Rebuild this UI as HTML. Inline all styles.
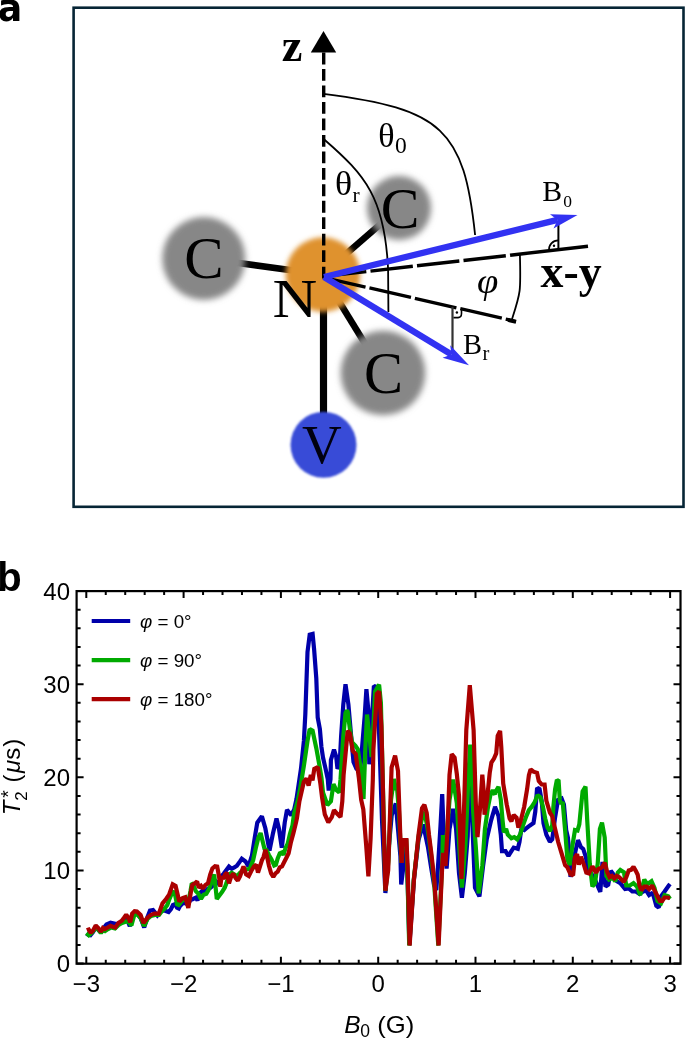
<!DOCTYPE html>
<html><head><meta charset="utf-8"><title>Figure</title>
<style>html,body{margin:0;padding:0;background:#fff;width:685px;height:1039px;overflow:hidden}svg{display:block}</style>
</head><body>
<svg width="685" height="1039" viewBox="0 0 685 1039">
<defs>
<filter id="b3" x="-30%" y="-30%" width="160%" height="160%"><feGaussianBlur stdDeviation="3.2"/></filter>
<filter id="b2" x="-30%" y="-30%" width="160%" height="160%"><feGaussianBlur stdDeviation="2.5"/></filter>
<filter id="b1" x="-30%" y="-30%" width="160%" height="160%"><feGaussianBlur stdDeviation="1.2"/></filter>
</defs>
<rect width="685" height="1039" fill="#fff"/>
<text x="0" y="20.9" font-family="DejaVu Sans, Liberation Sans, sans-serif" font-weight="bold" font-size="39.5" transform="translate(-2.3,0) scale(0.92,1)">a</text>
<text x="-2.8" y="590.6" font-family="Liberation Sans, Arial, sans-serif" font-weight="bold" font-size="40">b</text>
<rect x="73.6" y="7.7" width="609.9" height="499.1" fill="none" stroke="#062535" stroke-width="2.6"/>
<g stroke="#000" stroke-width="6.6" stroke-linecap="butt">
<line x1="322.5" y1="274.5" x2="203.8" y2="258.2"/>
<line x1="322.5" y1="274.5" x2="399" y2="208"/>
<line x1="322.5" y1="274.5" x2="383" y2="373"/>
<line x1="323.5" y1="277.0" x2="323.5" y2="445" stroke-width="7.2"/>
</g>
<circle cx="203.8" cy="258.5" r="41.5" fill="#878787" filter="url(#b3)"/>
<circle cx="399" cy="208" r="32" fill="#878787" filter="url(#b3)"/>
<circle cx="383" cy="373" r="42.3" fill="#878787" filter="url(#b3)"/>
<circle cx="322.9" cy="274.6" r="37.3" fill="#df922e" filter="url(#b2)"/>
<circle cx="323.5" cy="444.8" r="33" fill="#374bd7" filter="url(#b1)"/>
<text x="204" y="278" font-family="Liberation Serif, Times New Roman, serif" font-size="59" text-anchor="middle" fill="#000">C</text>
<text x="400" y="228" font-family="Liberation Serif, Times New Roman, serif" font-size="58" text-anchor="middle" fill="#000">C</text>
<text x="383.6" y="392.8" font-family="Liberation Serif, Times New Roman, serif" font-size="58.5" text-anchor="middle" fill="#000">C</text>
<text x="0" y="0" font-family="Liberation Serif, Times New Roman, serif" font-size="55.8" text-anchor="middle" fill="#000" transform="translate(294.9,317.3) scale(1.11,1)">N</text>
<text x="321.8" y="462.8" font-family="Liberation Serif, Times New Roman, serif" font-size="55" text-anchor="middle" fill="#000010">V</text>
<line x1="323.7" y1="52.6" x2="323.7" y2="278.6" stroke="#000" stroke-width="3.4" stroke-dasharray="11.8 4.67"/>
<polygon points="323.5,31 310.8,52.6 336.2,52.6" fill="#000"/>
<text x="281.8" y="60.7" font-family="Liberation Serif, Times New Roman, serif" font-weight="bold" font-size="46.5">z</text>
<path d="M323.5,93.9 C442.5,109 464,129.5 475.1,235" fill="none" stroke="#000" stroke-width="1.8"/>
<path d="M324.5,139.7 C365.5,175.3 384.8,197.9 388.1,269.3 L388.4,312" fill="none" stroke="#000" stroke-width="1.8"/>
<path d="M519.9,254.5 C521,293.1 520.4,293.5 511.7,320" fill="none" stroke="#000" stroke-width="1.8"/>
<line x1="324" y1="276.4" x2="510.1" y2="255.2" stroke="#000" stroke-width="3.4" stroke-dasharray="42.6 4.2"/>
<line x1="510.1" y1="255.2" x2="588" y2="246.3" stroke="#000" stroke-width="3.4"/>
<line x1="324" y1="277.6" x2="516" y2="321.4" stroke="#000" stroke-width="3.4" stroke-dasharray="42.6 4.0"/>
<line x1="508" y1="320.1" x2="516" y2="321.9" stroke="#000" stroke-width="3.6"/>
<line x1="558.4" y1="225" x2="558.4" y2="249.7" stroke="#000" stroke-width="2"/>
<line x1="452.5" y1="306.9" x2="452.5" y2="349" stroke="#333" stroke-width="2.2"/>
<path d="M549,250.7 A9.3,9.3 0 0 1 558.4,240.4" fill="none" stroke="#000" stroke-width="1.7"/>
<circle cx="554" cy="245.8" r="1.2" fill="#000"/>
<path d="M453.5,317.6 L458,317.6 Q461.5,317.4 461.5,313.5 L461.5,309.0" fill="none" stroke="#000" stroke-width="1.6"/>
<circle cx="456.9" cy="312.5" r="1.2" fill="#000"/>
<line x1="324.0" y1="277.0" x2="557.6" y2="219.9" stroke="#3232f2" stroke-width="6.3"/>
<polygon points="577.5,215.0 553.5,228.4 557.6,219.9 550.0,214.2" fill="#3232f2"/>
<line x1="324.0" y1="277.0" x2="451.5" y2="354.5" stroke="#3232f2" stroke-width="6.3"/>
<polygon points="469.0,365.2 442.6,357.7 451.5,354.5 450.2,345.2" fill="#3232f2"/>
<text x="540.6" y="286.6" font-family="Liberation Serif, Times New Roman, serif" font-weight="bold" font-size="45.8">x-y</text>
<text x="542.2" y="200.7" font-family="Liberation Serif, Times New Roman, serif" font-size="29.8">B<tspan font-size="17.5" dx="1.2" dy="5.9">0</tspan></text>
<text x="463" y="354" font-family="Liberation Serif, Times New Roman, serif" font-size="28.5">B<tspan font-size="20.5" dx="0.6" dy="6">r</tspan></text>
<text x="378.3" y="146.5" font-family="Liberation Serif, Times New Roman, serif" font-size="34">θ<tspan font-size="23.5" dx="0.3" dy="6.2">0</tspan></text>
<text x="335" y="194.7" font-family="Liberation Serif, Times New Roman, serif" font-size="34" transform="translate(335,0) scale(1.05,1) translate(-335,0)">θ<tspan font-size="20.5" dx="0.3" dy="7">r</tspan></text>
<text x="477" y="293.3" font-family="Liberation Serif, Times New Roman, serif" font-style="italic" font-size="35" transform="translate(477,0) scale(1.1,1) translate(-477,0)">φ</text>
<polyline points="86.4,933.6 88.8,935.0 90.4,935.2 93.0,932.0 95.7,927.5 98.1,929.5 100.9,932.5 103.0,929.0 106.5,924.5 110.5,922.7 115.3,923.9 118.6,923.5 121.8,921.5 124.2,919.5 126.5,918.0 129.8,926.3 132.0,918.0 134.6,913.0 137.0,913.0 140.6,918.0 144.2,927.4 147.5,917.0 150.0,910.5 153.0,910.0 155.5,913.0 157.4,915.5 161.2,911.2 163.8,910.3 166.4,911.2 168.6,912.0 170.8,909.4 173.0,905.0 175.2,904.2 177.0,907.7 178.7,908.5 180.0,906.0 183.5,902.5 187.9,904.3 190.5,899.9 193.1,899.0 195.8,897.7 197.5,900.3 200.1,892.9 202.8,890.3 205.4,891.2 208.0,888.5 210.6,887.7 213.3,885.0 215.9,881.5 218.5,884.2 221.2,876.3 223.8,873.6 226.4,870.1 229.0,866.6 231.7,868.8 234.3,867.5 236.9,865.8 240.0,861.4 241.8,858.7 245.5,861.5 248.5,866.5 252.0,855.4 254.9,836.7 257.3,822.7 261.9,816.3 265.4,828.5 269.5,850.7 273.0,833.2 276.5,818.6 278.9,828.5 281.8,847.8 284.7,822.7 287.0,809.9 291.1,815.1 294.1,809.9 296.5,799.0 301.0,768.6 303.9,740.9 305.3,714.6 307.5,652.1 309.7,634.6 312.6,633.9 314.1,649.2 316.3,678.4 317.7,717.5 319.9,729.2 321.4,746.7 323.0,757.5 325.6,768.9 327.8,779.4 328.7,790.5 330.5,779.4 330.9,760.0 334.0,749.6 336.2,756.6 337.5,768.9 339.7,763.6 341.1,736.5 343.3,704.4 345.5,684.2 348.4,704.4 351.3,738.0 353.5,762.0 356.4,768.6 360.1,771.5 363.0,736.5 364.7,716.0 366.4,689.2 368.2,708.9 369.3,764.3 372.2,714.6 373.9,685.8 376.2,686.9 379.0,730.0 382.0,820.0 385.4,893.0 388.5,850.0 391.7,815.2 395.8,803.5 397.5,823.4 400.4,856.0 401.2,884.5 403.5,866.0 406.0,848.0 407.3,868.0 409.4,945.0 413.9,880.0 418.5,840.0 423.2,824.5 427.9,846.7 431.2,868.0 434.0,885.0 436.3,890.0 438.3,862.0 440.5,826.0 442.2,794.2 443.5,829.0 446.6,868.6 449.5,829.2 453.1,808.8 456.1,829.2 459.0,873.0 461.9,897.8 464.8,873.0 467.7,836.5 469.6,763.1 471.4,800.0 475.0,887.6 479.4,896.4 483.1,865.7 486.7,839.4 491.1,820.4 494.7,808.0 495.0,806.7 498.5,816.1 500.8,834.7 502.0,851.1 505.5,851.1 508.4,855.8 511.4,851.1 513.7,847.6 517.8,848.8 519.5,841.8 521.3,828.9 524.2,830.1 527.1,827.7 530.0,825.4 533.5,823.1 535.3,811.4 537.0,789.2 539.4,788.0 541.7,800.9 543.5,823.1 546.4,834.7 549.9,841.8 552.2,839.4 555.0,818.0 558.0,800.0 561.6,798.5 563.9,804.4 566.2,830.1 567.9,837.5 570.1,862.0 570.5,876.9 573.6,859.4 578.0,840.1 581.0,847.2 583.2,848.9 585.8,856.8 588.0,869.0 594.2,877.8 600.3,891.8 602.5,862.0 605.5,886.6 608.2,884.8 610.8,870.8 613.4,874.3 616.9,881.3 620.3,883.1 625.1,889.1 628.7,888.5 632.3,891.5 635.9,891.5 639.5,893.9 643.1,891.5 646.1,890.3 649.1,895.1 652.7,892.7 656.3,905.8 658.7,907.6 661.0,896.3 664.6,891.5 668.8,885.5 670.0,884.0" fill="none" stroke="#0000aa" stroke-width="4.2" stroke-linejoin="miter" stroke-miterlimit="1.6" stroke-linecap="butt"/>
<polyline points="86.5,933.0 88.8,935.2 91.0,933.5 93.0,931.5 95.7,927.5 98.1,929.5 100.9,933.0 103.0,930.0 105.0,931.0 108.0,929.0 111.0,927.5 115.0,928.5 118.6,925.0 122.0,923.0 126.2,921.5 128.5,922.0 131.4,925.5 134.6,914.0 137.0,914.0 140.6,918.0 144.0,926.0 147.5,919.0 151.0,916.0 155.0,915.0 159.0,915.0 162.0,911.0 164.7,908.5 167.3,905.0 169.5,898.9 171.7,893.6 173.4,891.0 175.2,895.4 177.0,904.2 178.7,905.0 180.0,903.4 182.6,899.9 185.3,899.0 187.9,903.4 190.5,891.2 191.8,883.3 193.1,884.2 195.8,891.2 198.4,893.8 201.0,899.0 203.6,894.7 206.3,893.8 208.9,889.4 211.5,882.4 214.2,874.5 215.9,890.3 216.8,899.0 219.4,895.5 222.0,892.0 224.7,887.7 226.4,883.3 229.0,874.5 231.7,872.8 234.3,874.5 236.9,876.3 240.0,872.8 244.7,869.2 249.6,869.0 253.1,860.3 255.8,848.0 258.4,837.5 260.6,833.1 262.8,841.9 264.5,848.9 266.5,850.0 268.9,855.0 271.5,859.4 274.2,865.5 275.9,864.7 277.7,858.5 279.8,853.3 282.0,852.4 283.5,855.0 285.5,848.0 287.7,843.6 289.9,834.0 292.5,825.3 294.1,813.4 297.6,801.7 299.9,790.0 303.9,765.7 307.5,740.9 309.7,729.2 312.6,730.7 316.3,748.2 319.2,764.2 321.4,777.4 323.0,792.5 327.4,805.0 330.9,801.3 333.5,784.0 336.2,790.0 339.2,792.5 340.5,779.4 343.3,736.5 345.5,713.1 346.9,710.5 347.7,711.7 349.9,729.2 352.0,742.3 355.5,745.8 357.8,749.3 361.2,772.4 363.5,799.0 365.3,749.3 367.0,714.6 369.6,738.0 371.6,757.0 373.2,730.0 375.1,691.5 379.1,684.6 380.9,703.0 383.0,790.0 385.4,891.0 388.5,860.0 391.0,800.0 393.9,779.0 396.0,790.0 396.8,785.0 399.0,812.0 400.2,838.5 401.5,863.0 402.6,841.0 406.3,841.0 407.2,866.0 409.2,945.5 413.7,880.0 418.5,837.0 422.5,815.0 424.4,812.0 427.0,825.0 429.0,838.0 431.2,856.0 434.1,882.0 438.3,945.5 442.3,860.0 442.9,835.0 445.0,850.0 447.2,830.0 449.5,800.0 453.1,779.6 456.8,803.0 459.5,850.0 461.9,887.6 465.5,843.8 468.5,775.0 470.2,744.7 471.0,750.0 473.2,812.0 475.8,846.7 478.7,893.4 482.3,865.7 484.9,829.3 487.9,807.7 490.5,794.7 492.7,790.3 494.9,794.7 495.0,792.7 498.5,786.9 500.8,799.7 502.6,820.7 503.8,832.4 506.1,828.9 507.8,834.7 511.4,838.2 514.3,837.1 517.2,839.4 520.1,834.7 523.0,825.4 525.9,817.2 528.9,810.2 531.8,806.7 534.7,802.0 537.6,795.0 540.5,797.4 542.9,806.7 545.2,818.4 547.6,827.7 549.9,831.2 552.2,825.4 553.4,806.7 555.1,789.2 556.9,779.9 558.6,781.0 559.8,800.0 561.0,804.0 562.7,802.0 565.1,830.1 567.4,859.3 569.7,865.1 572.1,847.6 575.0,830.0 577.5,830.5 579.3,824.4 580.2,815.2 582.6,791.4 585.5,786.7 587.2,820.0 589.8,863.8 592.4,886.6 595.0,883.1 597.7,863.8 599.9,828.8 602.0,822.6 604.7,837.5 606.4,876.1 609.0,879.6 612.6,877.8 615.2,881.3 617.8,872.6 620.3,869.9 623.9,872.3 626.3,885.5 629.9,885.5 633.5,883.1 637.1,886.7 640.1,895.1 644.3,879.5 647.3,884.3 651.5,881.3 654.5,887.9 657.5,901.0 661.0,903.4 664.6,895.1 668.2,896.3 670.0,899.0" fill="none" stroke="#00aa00" stroke-width="4.2" stroke-linejoin="miter" stroke-miterlimit="1.6" stroke-linecap="butt"/>
<polyline points="86.8,930.3 88.8,929.5 90.8,932.8 92.9,930.7 95.7,925.5 98.1,927.9 100.9,931.9 102.9,927.9 104.9,929.1 107.7,927.5 110.5,925.9 112.9,926.7 115.3,927.5 118.6,922.7 121.8,920.7 124.2,917.5 126.2,914.7 128.2,917.5 130.2,922.3 132.2,913.5 134.6,911.1 136.9,911.4 140.6,915.0 143.5,923.1 147.2,918.0 150.8,915.0 154.5,913.6 158.8,913.6 162.5,903.4 166.1,899.0 169.1,894.6 172.7,884.4 175.6,886.0 179.3,901.5 180.0,900.8 182.6,898.2 185.3,897.3 188.3,907.8 190.9,892.0 192.3,885.0 194.9,883.3 197.1,881.5 198.8,887.7 201.0,885.9 202.8,888.5 205.4,885.0 208.0,883.3 210.2,874.5 212.4,868.4 215.0,866.2 217.2,866.6 219.0,876.3 220.3,886.8 221.6,876.3 223.3,878.9 225.1,874.5 226.8,872.8 229.0,883.3 231.2,876.3 233.4,873.6 235.6,878.0 237.8,880.6 240.0,876.3 243.5,866.4 246.1,874.3 248.8,876.0 251.4,870.8 254.0,866.4 256.2,864.7 258.0,872.5 259.7,867.3 261.9,860.3 263.6,856.8 265.4,849.8 267.1,856.8 268.9,865.5 271.1,873.4 273.3,876.9 275.5,873.4 277.7,871.7 279.8,867.3 282.0,866.4 284.2,862.0 286.4,857.7 288.6,853.3 290.8,842.8 293.4,833.1 296.0,822.6 297.0,818.0 299.4,801.3 303.8,782.0 306.4,778.5 308.6,785.5 310.8,775.0 312.5,780.3 314.3,768.9 317.8,767.1 320.4,783.8 322.1,797.8 324.8,814.4 328.3,822.3 331.8,817.1 334.0,810.0 337.0,813.6 340.5,817.1 342.3,801.3 343.6,775.0 347.7,730.7 349.9,733.6 352.8,751.1 355.7,754.0 358.9,778.2 361.2,800.0 363.3,809.2 366.2,845.7 368.4,876.4 370.6,838.4 372.8,780.0 373.4,749.3 376.8,693.9 379.1,691.5 381.4,726.2 383.2,800.0 385.4,890.7 388.2,870.0 390.5,800.0 391.6,767.4 395.1,755.7 398.0,770.9 400.4,838.5 401.7,863.0 402.8,840.0 406.5,840.0 407.6,866.0 409.6,945.5 413.9,880.0 418.5,835.0 422.0,808.2 424.4,804.7 426.7,812.8 429.0,835.0 431.4,853.7 434.3,880.0 438.6,945.5 442.5,860.0 443.2,853.0 445.5,866.0 447.5,830.0 449.5,775.0 451.7,754.1 454.6,757.7 456.8,773.8 459.0,795.7 461.5,879.0 464.3,800.0 466.3,730.0 469.8,685.2 473.6,730.0 475.8,803.3 477.5,837.1 480.1,807.7 482.3,774.7 484.0,794.7 484.5,814.6 487.1,799.0 489.7,773.0 491.4,762.6 494.0,758.5 496.2,753.4 497.7,735.8 500.1,730.8 501.3,747.5 503.2,783.4 506.7,804.4 509.6,818.4 511.4,821.3 513.7,814.9 516.6,817.8 518.4,827.7 520.7,820.7 524.2,806.7 527.1,789.2 528.9,775.2 530.6,769.3 533.5,771.7 537.0,772.8 538.8,781.0 541.7,784.5 544.6,784.5 546.4,800.9 549.9,812.6 552.2,816.1 554.6,826.6 558.1,841.8 561.6,853.4 565.1,865.1 567.4,867.3 570.5,874.3 573.1,875.2 574.9,857.7 577.1,854.2 578.8,864.7 581.0,856.8 583.6,863.8 586.3,872.6 588.9,873.4 592.4,866.4 595.9,872.6 598.5,869.0 602.0,867.3 604.8,862.7 607.2,872.3 609.6,877.1 612.0,875.9 614.4,878.3 616.8,875.9 619.2,877.1 621.5,879.5 623.9,881.9 626.3,877.1 628.7,870.5 631.1,869.9 633.5,866.9 635.9,871.1 637.7,874.7 639.5,885.5 641.3,890.3 644.3,886.7 646.7,886.7 649.1,889.1 652.1,885.5 654.5,890.3 657.5,896.3 659.9,901.0 662.2,901.0 664.6,897.5 667.0,897.5 670.0,898.0" fill="none" stroke="#aa0000" stroke-width="4.2" stroke-linejoin="miter" stroke-miterlimit="1.6" stroke-linecap="butt"/>
<rect x="76.6" y="591.1" width="603.9" height="372.6" fill="none" stroke="#000" stroke-width="2.2"/>
<path d="M86.30,963.7v-7M86.30,591.1v7M105.76,963.7v-4M105.76,591.1v4M125.22,963.7v-4M125.22,591.1v4M144.68,963.7v-4M144.68,591.1v4M164.14,963.7v-4M164.14,591.1v4M183.60,963.7v-7M183.60,591.1v7M203.06,963.7v-4M203.06,591.1v4M222.52,963.7v-4M222.52,591.1v4M241.98,963.7v-4M241.98,591.1v4M261.44,963.7v-4M261.44,591.1v4M280.90,963.7v-7M280.90,591.1v7M300.36,963.7v-4M300.36,591.1v4M319.82,963.7v-4M319.82,591.1v4M339.28,963.7v-4M339.28,591.1v4M358.74,963.7v-4M358.74,591.1v4M378.20,963.7v-7M378.20,591.1v7M397.66,963.7v-4M397.66,591.1v4M417.12,963.7v-4M417.12,591.1v4M436.58,963.7v-4M436.58,591.1v4M456.04,963.7v-4M456.04,591.1v4M475.50,963.7v-7M475.50,591.1v7M494.96,963.7v-4M494.96,591.1v4M514.42,963.7v-4M514.42,591.1v4M533.88,963.7v-4M533.88,591.1v4M553.34,963.7v-4M553.34,591.1v4M572.80,963.7v-7M572.80,591.1v7M592.26,963.7v-4M592.26,591.1v4M611.72,963.7v-4M611.72,591.1v4M631.18,963.7v-4M631.18,591.1v4M650.64,963.7v-4M650.64,591.1v4M670.10,963.7v-7M670.10,591.1v7M76.6,963.60h7M680.5,963.60h-7M76.6,944.98h4M680.5,944.98h-4M76.6,926.35h4M680.5,926.35h-4M76.6,907.73h4M680.5,907.73h-4M76.6,889.10h4M680.5,889.10h-4M76.6,870.48h7M680.5,870.48h-7M76.6,851.85h4M680.5,851.85h-4M76.6,833.23h4M680.5,833.23h-4M76.6,814.60h4M680.5,814.60h-4M76.6,795.98h4M680.5,795.98h-4M76.6,777.35h7M680.5,777.35h-7M76.6,758.73h4M680.5,758.73h-4M76.6,740.10h4M680.5,740.10h-4M76.6,721.48h4M680.5,721.48h-4M76.6,702.85h4M680.5,702.85h-4M76.6,684.23h7M680.5,684.23h-7M76.6,665.60h4M680.5,665.60h-4M76.6,646.98h4M680.5,646.98h-4M76.6,628.35h4M680.5,628.35h-4M76.6,609.73h4M680.5,609.73h-4M76.6,591.10h7M680.5,591.10h-7" stroke="#000" stroke-width="2" fill="none"/>
<text x="70" y="972.2" font-family="Liberation Sans, Arial, Helvetica, sans-serif" font-size="24" text-anchor="end">0</text>
<text x="70" y="879.1" font-family="Liberation Sans, Arial, Helvetica, sans-serif" font-size="24" text-anchor="end">10</text>
<text x="70" y="786.0" font-family="Liberation Sans, Arial, Helvetica, sans-serif" font-size="24" text-anchor="end">20</text>
<text x="70" y="692.8" font-family="Liberation Sans, Arial, Helvetica, sans-serif" font-size="24" text-anchor="end">30</text>
<text x="70" y="599.7" font-family="Liberation Sans, Arial, Helvetica, sans-serif" font-size="24" text-anchor="end">40</text>
<text x="86.3" y="992" font-family="Liberation Sans, Arial, Helvetica, sans-serif" font-size="24" text-anchor="middle">−3</text>
<text x="183.6" y="992" font-family="Liberation Sans, Arial, Helvetica, sans-serif" font-size="24" text-anchor="middle">−2</text>
<text x="280.9" y="992" font-family="Liberation Sans, Arial, Helvetica, sans-serif" font-size="24" text-anchor="middle">−1</text>
<text x="378.2" y="992" font-family="Liberation Sans, Arial, Helvetica, sans-serif" font-size="24" text-anchor="middle">0</text>
<text x="475.5" y="992" font-family="Liberation Sans, Arial, Helvetica, sans-serif" font-size="24" text-anchor="middle">1</text>
<text x="572.8" y="992" font-family="Liberation Sans, Arial, Helvetica, sans-serif" font-size="24" text-anchor="middle">2</text>
<text x="670.1" y="992" font-family="Liberation Sans, Arial, Helvetica, sans-serif" font-size="24" text-anchor="middle">3</text>
<text x="344.3" y="1033" font-family="Liberation Sans, Arial, Helvetica, sans-serif" font-size="24.5"><tspan font-style="italic">B</tspan><tspan font-size="17.5" dx="-0.3" dy="4">0</tspan></text>
<text x="0" y="1033" font-family="Liberation Sans, Arial, Helvetica, sans-serif" font-size="24" transform="translate(377.3,0) scale(1.07,1)">(G)</text>
<text transform="translate(20.2,815.3) rotate(-90)" font-family="Liberation Sans, Arial, Helvetica, sans-serif" font-size="24"><tspan font-style="italic">T</tspan><tspan font-size="17" dy="7">2</tspan><tspan font-size="19.5" dx="-6.55" dy="-12.4">*</tspan><tspan dx="0.86" dy="5.4"> (</tspan><tspan font-style="italic" dx="1.6">μ</tspan><tspan dx="0">s</tspan><tspan dx="1.0">)</tspan></text>
<line x1="91.7" y1="621.0" x2="130.2" y2="621.0" stroke="#0000aa" stroke-width="4.2"/>
<text x="140" y="627.8" font-family="Liberation Sans, Arial, Helvetica, sans-serif" font-size="18.8"><tspan font-style="italic">φ</tspan> = 0°</text>
<line x1="91.7" y1="660.1" x2="130.2" y2="660.1" stroke="#00aa00" stroke-width="4.2"/>
<text x="140" y="666.9" font-family="Liberation Sans, Arial, Helvetica, sans-serif" font-size="18.8"><tspan font-style="italic">φ</tspan> = 90°</text>
<line x1="91.7" y1="699.2" x2="130.2" y2="699.2" stroke="#aa0000" stroke-width="4.2"/>
<text x="140" y="706.0" font-family="Liberation Sans, Arial, Helvetica, sans-serif" font-size="18.8"><tspan font-style="italic">φ</tspan> = 180°</text>
</svg>
</body></html>
